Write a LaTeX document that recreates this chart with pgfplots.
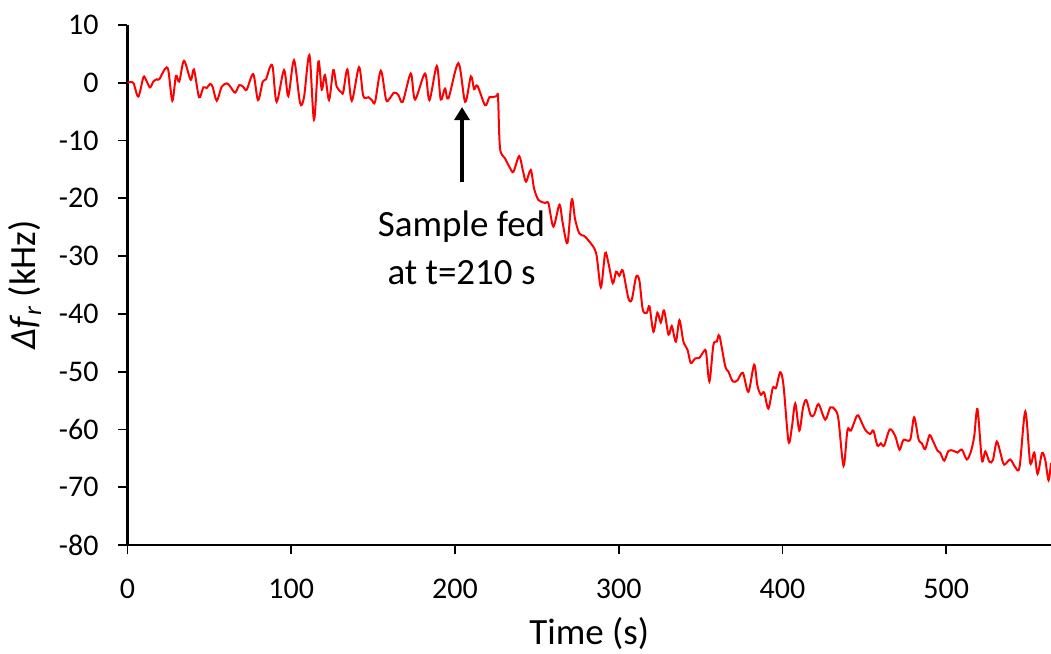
\documentclass[border=0pt]{standalone}
\usepackage{fontspec}
\setmainfont{Carlito}
\usepackage{pgfplots}
\pgfplotsset{compat=1.18}
\usetikzlibrary{arrows.meta,calc}
\begin{document}
\begin{tikzpicture}
\begin{axis}[
  scale only axis, width=461.75pt, height=260pt,
  xmin=0, xmax=564, ymin=-80, ymax=10,
  axis lines*=left,
  axis line style={line width=1.1pt, black},
  xtick={0,100,...,500}, xticklabels={0,100,200,300,400,500},
  ytick={-80,-70,...,10}, yticklabels={-80,-70,-60,-50,-40,-30,-20,-10,0,10},
  tick align=outside, major tick length=4.75pt,
  tick style={line width=0.9pt, black},
  ticklabel style={font=\fontsize{15}{18}\selectfont},
  xticklabel style={anchor=north, yshift=-8.5pt},
  yticklabel style={anchor=east, xshift=-6.2pt},
  xlabel={Time (s)},
  ylabel={\textit{Δf}\textsubscript{\textit{r}} (kHz)},
  every axis x label/.style={at={(axis description cs:0.5,-0.171)}, anchor=center, font=\fontsize{18.5}{22}\selectfont},
  every axis y label/.style={at={(axis description cs:-0.111,0.5)}, rotate=90, anchor=center, font=\fontsize{18.5}{22}\selectfont},
]
\addplot[red, line width=1pt, smooth, tension=0.5] coordinates {
(0.0,0) (3.5,0) (6.6,-2.4) (9.7,0.95) (11.3,0.5) (13.7,-0.8) (15.8,0.2) (17.8,0.6) (19.4,0.6)
(22.9,2.4) (24.9,2.2) (27.4,-3.1) (29.6,1.2) (31.6,0.2) (34.5,3.8) (38.6,0.5) (40.6,2.3)
(43.7,-2.5) (46.3,-0.8) (48.4,-0.9) (50.4,-0.2) (52.0,-0.7) (54.5,-3.1) (57.5,-0.7) (60.6,-0.1)
(62.6,-0.6) (65.7,-1.7) (68.3,-0.4) (70.7,-0.7) (72.8,-1.2) (76.8,1.5) (79.7,-3.0) (82.6,0.2)
(84.6,0.6) (87.0,2.7) (88.7,2.7) (91.1,-3.3) (95.6,2.2) (98.2,-2.3) (101.7,3.9) (105.4,-3.5)
(107.8,-2.5) (111.1,4.8) (113.9,-6.4) (116.6,3.7) (118.6,-1.2) (120.6,1.35) (123.1,-3.0)
(125.7,2.2) (127.8,-0.7) (130.8,-1.7) (131.8,-1.6) (134.3,2.3) (137.0,-3.1) (141.4,2.7)
(144.0,-2.3) (147.1,-2.5) (149.2,-3.0) (151.2,-3.3) (154.7,2.1) (157.9,-2.9) (159.9,-2.8)
(162.8,-1.7) (165.4,-2.1) (168.1,-3.3) (173.0,1.6) (175.6,-2.9) (181.7,1.6) (184.4,-3.0)
(188.9,2.9) (191.3,-2.9) (193.9,-1.0) (196.0,-2.7) (202.1,3.4) (206.2,-3.3) (209.7,1.1)
(211.7,-1.1) (213.7,-0.5) (218.4,-3.9) (221.0,-2.5) (223.1,-2.5) (225.5,-2.3) (226.3,-2.5)
(227.5,-11.3) (230.6,-13.1) (233.7,-14.8) (235.7,-15.4) (239.2,-12.7) (241.4,-15.1) (243.4,-17.1)
(246.3,-15.1) (248.3,-18.3) (251.0,-20.3) (255.0,-20.8) (257.1,-20.9) (260.1,-24.9) (263.8,-21.1)
(265.8,-24.3) (268.7,-27.7) (271.3,-20.2) (273.4,-23.7) (276.0,-26.1) (278.9,-26.5) (282.1,-27.5)
(286.2,-29.5) (289.1,-35.4) (291.7,-29.5) (293.7,-31.2) (296.4,-34.7) (298.4,-32.7) (300.4,-33.4)
(302.5,-32.5) (305.9,-37.3) (308.0,-37.5) (310.6,-33.6) (312.6,-34.2) (314.7,-39.3) (317.2,-39.8)
(318.8,-38.7) (321.2,-43.1) (323.6,-39.8) (325.7,-41.5) (327.7,-39.4) (330.4,-43.6) (332.4,-42.1)
(334.9,-44.8) (337.1,-41.1) (339.5,-44.8) (342.0,-46.2) (344.0,-48.5) (346.7,-47.7) (349.3,-47.6)
(352.2,-46.4) (353.4,-46.7) (355.4,-51.7) (357.8,-45.4) (359.9,-44.8) (361.5,-43.8) (365.0,-49.0)
(367.0,-50.0) (369.7,-51.7) (372.5,-51.5) (375.8,-50.2) (379.2,-53.5) (382.7,-48.8) (384.7,-52.4)
(386.8,-54.0) (388.8,-53.6) (391.4,-56.4) (394.1,-52.8) (396.1,-52.8) (398.6,-50.1) (400.6,-52.3)
(403.7,-62.1) (405.8,-59.5) (407.8,-55.5) (410.3,-60.2) (412.5,-56.3) (414.5,-54.9) (417.3,-57.6)
(419.4,-57.4) (422.0,-55.6) (426.1,-58.3) (429.2,-56.2) (432.2,-56.6) (434.2,-58.3) (437.3,-66.3)
(439.7,-60.1) (441.8,-60.2) (445.5,-57.6) (447.1,-58.0) (450.4,-60.0) (453.5,-60.8) (455.5,-60.2)
(458.0,-62.8) (460.1,-62.4) (462.1,-62.8) (465.5,-60.0) (468.8,-61.1) (471.5,-63.5) (473.9,-61.8)
(478.0,-61.8) (480.4,-57.9) (483.1,-61.7) (485.1,-62.4) (487.2,-63.4) (489.8,-61.0) (491.9,-62.0)
(494.7,-63.7) (496.3,-64.0) (498.8,-65.4) (501.4,-63.7) (504.5,-63.7) (506.9,-64.0) (509.6,-63.5)
(512.6,-65.2) (515.1,-63.8) (517.1,-61.2) (519.1,-56.5) (521.8,-65.3) (523.9,-63.8) (526.4,-65.6)
(528.5,-65.3) (530.9,-62.1) (533.4,-64.4) (535.4,-66.1) (539.1,-65.2) (542.1,-66.5) (544.8,-66.5)
(548.3,-56.9) (551.3,-65.8) (553.8,-64.0) (555.8,-67.7) (558.5,-64.1) (560.5,-65.3) (562.5,-68.8)
(564.0,-65.8)
};
\draw[line width=2pt, -{Triangle[width=7.5pt,length=6.5pt]}] (axis cs:204.3,-17.1) -- (axis cs:204.3,-4.2);
\node[anchor=base, font=\fontsize{18.5}{22}\selectfont, inner sep=0pt] at (axis cs:204.0,-26.6) {Sample fed};
\node[anchor=base, font=\fontsize{18.5}{22}\selectfont, inner sep=0pt] at (axis cs:204.0,-35.0) {at t=210 s};
\end{axis}
\pgfresetboundingbox
\path ($(current axis.south west)+(-63.75pt,-54.5pt)$) rectangle ($(current axis.north east)+(0pt,12.5pt)$);
\end{tikzpicture}
\end{document}
